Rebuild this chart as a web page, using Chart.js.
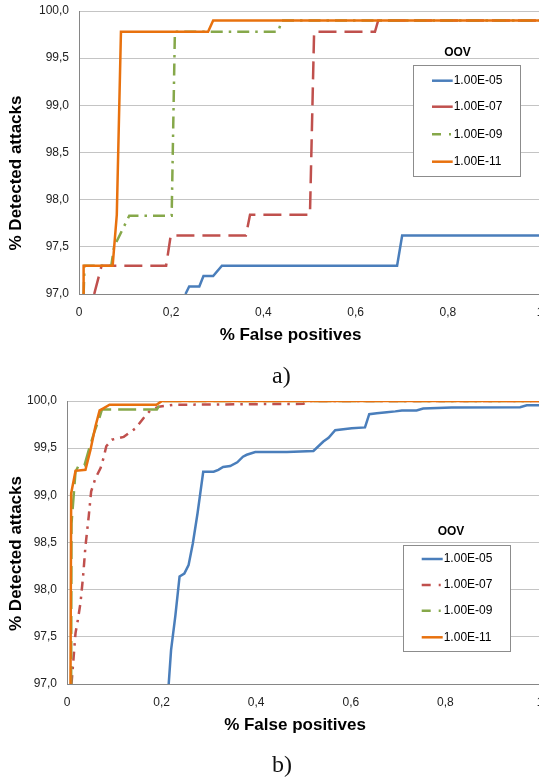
<!DOCTYPE html>
<html>
<head>
<meta charset="utf-8">
<title>OOV ROC curves</title>
<script src="https://cdn.jsdelivr.net/npm/chart.js@4.4.1/dist/chart.umd.min.js"></script>
<style>
  body { margin: 0; background: #fff; }
  #page { position: relative; width: 539px; height: 779px; overflow: hidden; }
  #page canvas { position: absolute; left: 0; }
  #chartA { top: 0; }
  #chartB { top: 389px; }
  .caption {
    position: absolute;
    left: 272px;
    font-family: 'Liberation Serif', 'DejaVu Serif', serif;
    font-size: 24px;
    line-height: 26px;
    color: #111;
  }
</style>
</head>
<body>
<div id="page">
  <canvas id="chartA" width="545" height="389"></canvas>
  <canvas id="chartB" width="545" height="390"></canvas>
  <div class="caption" style="top:362px">a)</div>
  <div class="caption" style="top:751px">b)</div>
</div>
<script>
// --- data (x = % false positives, y = % detected attacks) ---
const seriesLabels = ['1.00E-05', '1.00E-07', '1.00E-09', '1.00E-11'];
const xTicks = [0, 0.2, 0.4, 0.6, 0.8, 1];
const yTicks = [97.0, 97.5, 98.0, 98.5, 99.0, 99.5, 100.0];
const xTitle = '% False positives';
const yTitle = '% Detected attacks';
const legendTitle = 'OOV';

// chart a)
const a05 = [[0.231, 97.0], [0.239, 97.08], [0.261, 97.08], [0.27, 97.19], [0.291, 97.19], [0.31, 97.3],
  [0.69, 97.3], [0.701, 97.62], [1, 97.62]];
const a07 = [[0.033, 97.0], [0.049, 97.3], [0.189, 97.3], [0.199, 97.62], [0.362, 97.62], [0.371, 97.84],
  [0.501, 97.84], [0.51, 99.78], [0.642, 99.78], [0.649, 99.9], [1, 99.9]];
const a09 = [[0.01, 97.0], [0.012, 97.3], [0.07, 97.3], [0.076, 97.5], [0.109, 97.83], [0.201, 97.83],
  [0.208, 99.78], [0.432, 99.78], [0.44, 99.9], [1, 99.9]];
const a11 = [[0.009, 97.0], [0.01, 97.3], [0.073, 97.3], [0.082, 97.84], [0.091, 99.78], [0.28, 99.78],
  [0.291, 99.9], [1, 99.9]];

// chart b)
const b05 = [[0.215, 97.0], [0.22, 97.36], [0.229, 97.72], [0.238, 98.14], [0.248, 98.17], [0.257, 98.26],
  [0.266, 98.49], [0.276, 98.81], [0.288, 99.25], [0.31, 99.25], [0.32, 99.27], [0.33, 99.3], [0.345, 99.31],
  [0.36, 99.35], [0.372, 99.41], [0.38, 99.43], [0.398, 99.46], [0.465, 99.46], [0.521, 99.47], [0.542, 99.57],
  [0.553, 99.61], [0.567, 99.69], [0.602, 99.71], [0.63, 99.72], [0.639, 99.86], [0.655, 99.87], [0.676, 99.88],
  [0.694, 99.89], [0.708, 99.9], [0.739, 99.9], [0.753, 99.92], [0.813, 99.93], [0.958, 99.935], [0.972, 99.955],
  [1, 99.955]];
const b07 = [[0.0095, 97.0], [0.013, 97.22], [0.018, 97.54], [0.023, 97.68], [0.0285, 97.86], [0.034, 98.14],
  [0.039, 98.46], [0.046, 98.78], [0.051, 99.04], [0.06, 99.18], [0.071, 99.29], [0.078, 99.41], [0.083, 99.52],
  [0.095, 99.59], [0.12, 99.62], [0.145, 99.71], [0.162, 99.82], [0.176, 99.9], [0.194, 99.94], [0.226, 99.96],
  [0.5, 99.97], [0.51, 100], [1, 100]];
const b09 = [[0.0088, 97.0], [0.0095, 98.7], [0.018, 99.25], [0.025, 99.32], [0.037, 99.32], [0.046, 99.48],
  [0.057, 99.66], [0.069, 99.83], [0.074, 99.91], [0.19, 99.91], [0.201, 100], [1, 100]];
const b11 = [[0.0074, 97.0], [0.0088, 99.02], [0.018, 99.26], [0.039, 99.27], [0.0496, 99.48], [0.06, 99.73],
  [0.069, 99.9], [0.076, 99.92], [0.09, 99.96], [0.189, 99.96], [0.201, 100], [1, 100]];

// --- style ---
const seriesColors = ['#4a7ebb', '#c0504d', '#86a84a', '#e8710e'];
const FONT = "'Liberation Sans', Arial, sans-serif";

const overlayPlugin = {
  id: 'overlay',
  afterDraw(chart, args, opts) {
    const ctx = chart.ctx;
    ctx.save();
    ctx.fillStyle = '#000';
    ctx.font = 'bold 17px ' + FONT;
    ctx.textAlign = 'center';
    ctx.textBaseline = 'middle';
    ctx.fillText(xTitle, opts.xTitle[0], opts.xTitle[1]);
    ctx.save();
    ctx.translate(opts.yTitle[0], opts.yTitle[1]);
    ctx.rotate(-Math.PI / 2);
    ctx.fillText(yTitle, 0, 0);
    ctx.restore();

    // legend
    const [l, t, r, b] = opts.box;
    ctx.fillStyle = '#fff';
    ctx.fillRect(l, t, r - l, b - t);
    ctx.strokeStyle = '#8c8c8c';
    ctx.lineWidth = 1;
    ctx.strokeRect(l + 0.5, t + 0.5, r - l, b - t);
    ctx.fillStyle = '#000';
    ctx.font = 'bold 12px ' + FONT;
    ctx.fillText(legendTitle, opts.title[0], opts.title[1]);
    ctx.font = '12px ' + FONT;
    ctx.textAlign = 'left';
    chart.data.datasets.forEach((ds, i) => {
      const y = opts.rows[i];
      ctx.beginPath();
      ctx.setLineDash(opts.legendDash[i]);
      ctx.strokeStyle = ds.borderColor;
      ctx.lineWidth = 2.5;
      ctx.moveTo(opts.lineX[0], y);
      ctx.lineTo(opts.lineX[1], y);
      ctx.stroke();
      ctx.setLineDash([]);
      ctx.fillStyle = '#000';
      ctx.fillText(ds.label, opts.lineX[1] + 1, y);
    });
    ctx.restore();
  }
};

function makeDatasets(series, dashes) {
  return series.map((pts, i) => ({
    label: seriesLabels[i],
    data: pts.map(p => ({ x: p[0], y: p[1] })),
    borderColor: seriesColors[i],
    borderWidth: 2.5,
    borderDash: dashes[i],
    pointRadius: 0,
    tension: 0,
    fill: false,
    order: series.length - i
  }));
}

function fmt(v) {
  return String(v).replace('.', ',');
}

function makeChart(id, series, dashes, yAxisWidth, padTop, overlay) {
  const ctx = document.getElementById(id).getContext('2d');
  return new Chart(ctx, {
    type: 'line',
    data: { datasets: makeDatasets(series, dashes) },
    options: {
      responsive: false,
      animation: false,
      events: [],
      layout: { padding: { top: padTop, right: 5, left: 0, bottom: 0 } },
      plugins: {
        legend: { display: false },
        tooltip: { enabled: false },
        overlay: overlay
      },
      scales: {
        x: {
          type: 'linear',
          min: 0,
          max: 1,
          afterBuildTicks: s => { s.ticks = xTicks.map(v => ({ value: v })); },
          afterFit: s => { s.height = 95; s.paddingLeft = 0; s.paddingRight = 0; },
          grid: { display: false, drawTicks: false },
          border: { display: true, color: '#868686', width: 1 },
          ticks: {
            padding: 11,
            maxRotation: 0,
            autoSkip: false,
            color: '#222',
            font: { family: FONT, size: 12 },
            callback: v => fmt(v)
          }
        },
        y: {
          type: 'linear',
          min: 97,
          max: 100,
          afterBuildTicks: s => { s.ticks = yTicks.map(v => ({ value: v })); },
          afterFit: s => { s.width = yAxisWidth; s.paddingTop = 0; s.paddingBottom = 0; },
          grid: { color: '#c4c4c4', lineWidth: 1, drawTicks: false },
          border: { display: true, color: '#868686', width: 1 },
          ticks: {
            padding: 10,
            color: '#222',
            font: { family: FONT, size: 12 },
            callback: v => fmt(v.toFixed(1))
          }
        }
      }
    },
    plugins: [overlayPlugin]
  });
}

document.addEventListener('DOMContentLoaded', () => {
  makeChart('chartA', [a05, a07, a09, a11], [[], [18, 8], [12, 6, 2.5, 6], []], 79, 11, {
    xTitle: [290.5, 335], yTitle: [16.5, 173],
    box: [413, 65, 520, 176], title: [457.5, 53],
    rows: [80.7, 106.7, 134.3, 161.7], lineX: [432, 452.7],
    legendDash: [[], [], [9, 8, 2, 8], []]
  });
  makeChart('chartB', [b05, b07, b09, b11], [[], [9, 6, 2.5, 6], [18, 7], []], 67, 12, {
    xTitle: [295, 336], yTitle: [16, 164.5],
    box: [403, 156, 510, 262], title: [451, 142.7],
    rows: [170, 196, 221.7, 248.3], lineX: [421.7, 442.7],
    legendDash: [[], [9, 8, 2, 8], [9, 8, 2, 8], []]
  });
});
</script>
</body>
</html>
